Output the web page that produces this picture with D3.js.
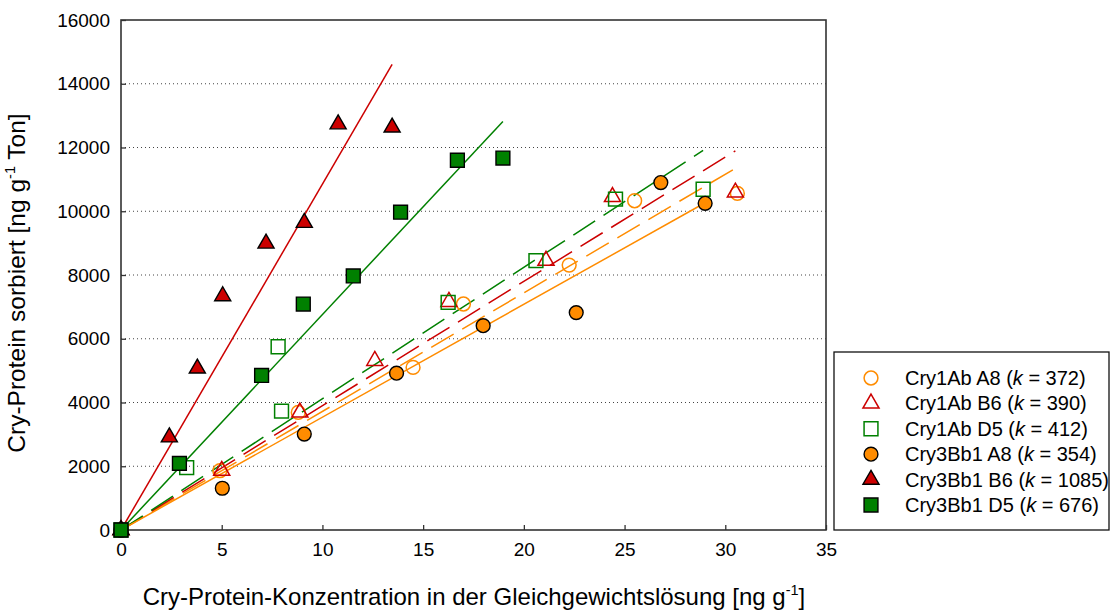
<!DOCTYPE html>
<html><head><meta charset="utf-8">
<script src="https://cdn.jsdelivr.net/npm/d3@7"></script>
<style>body{margin:0;background:#fff}svg{display:block;font-family:"Liberation Sans",Arial,sans-serif}</style>
</head><body><svg id="c" width="1112" height="610"></svg>
<script>
const xTicks=[0,5,10,15,20,25,30,35];
const yTicks=[0,2000,4000,6000,8000,10000,12000,14000,16000];
const seriesNames=["Cry1Ab A8","Cry1Ab B6","Cry1Ab D5","Cry3Bb1 A8","Cry3Bb1 B6","Cry3Bb1 D5"];
const kValues=[372,390,412,354,1085,676];
const cry1AbA8=[[0,0],[4.91,1860],[8.8,3690],[14.5,5100],[17.0,7090],[22.25,8310],[25.5,10330],[30.6,10560]];
const cry1AbB6=[[0,0],[5.0,1860],[8.88,3690],[12.6,5310],[16.28,7160],[21.1,8450],[24.4,10450],[30.5,10590]];
const cry1AbD5=[[0,0],[3.26,1955],[7.97,3730],[7.8,5750],[16.24,7140],[20.6,8450],[24.55,10380],[28.9,10690]];
const cry3Bb1A8=[[0,0],[5.03,1310],[9.1,3010],[13.68,4920],[17.98,6410],[22.6,6820],[26.8,10900],[29.0,10250]];
const cry3Bb1B6=[[0,0],[2.4,2910],[3.79,5070],[5.05,7340],[7.2,8990],[9.1,9640],[10.78,12730],[13.46,12630]];
const cry3Bb1D5=[[0,0],[2.9,2090],[6.98,4850],[9.05,7090],[11.53,7970],[13.88,9970],[16.7,11600],[18.96,11670]];
const seriesData=[cry1AbA8,cry1AbB6,cry1AbD5,cry3Bb1A8,cry3Bb1B6,cry3Bb1D5];

const colors=["#ff8c00","#cc0000","#008000","#ff8c00","#cc0000","#008000"];
const shapes=[d3.symbolCircle,d3.symbolTriangle,d3.symbolSquare,d3.symbolCircle,d3.symbolTriangle,d3.symbolSquare];
const sizes={circle:150,triangle:112,square:192};
const filled=[false,false,false,true,true,true];

const svg=d3.select("#c");
const L=121,R=826,T=20,B=530;
const x=d3.scaleLinear().domain([0,35]).range([L,R]);
const y=d3.scaleLinear().domain([0,16000]).range([B,T]);

// grid
svg.append("g").selectAll("line").data(yTicks.filter(v=>v>0&&v<16000)).join("line")
  .attr("x1",L).attr("x2",R).attr("y1",d=>y(d)).attr("y2",d=>y(d))
  .attr("stroke","#444").attr("stroke-width",1).attr("stroke-dasharray","1,3");

// axes
const gx=svg.append("g").attr("transform",`translate(0,${B})`)
  .call(d3.axisBottom(x).tickValues(xTicks).tickSizeInner(-5).tickSizeOuter(0).tickPadding(13).tickFormat(d3.format("d")));
const gy=svg.append("g").attr("transform",`translate(${L},0)`)
  .call(d3.axisLeft(y).tickValues(yTicks).tickSizeInner(-5).tickSizeOuter(0).tickPadding(11).tickFormat(d3.format("d")));
[gx,gy].forEach(g=>{g.select(".domain").remove();g.selectAll("text").attr("font-size",19).attr("fill","#000").attr("font-family","Liberation Sans, Arial, sans-serif");g.selectAll("line").attr("stroke","#333").attr("stroke-width",1.3);});

// frame
svg.append("rect").attr("x",L).attr("y",T).attr("width",R-L).attr("height",B-T)
  .attr("fill","none").attr("stroke","#333").attr("stroke-width",1.6);

// regression lines
const line=d3.line().x(d=>x(d[0])).y(d=>y(d[1]));
seriesData.forEach((s,i)=>{
  const xmax=d3.max(s,d=>d[0]);
  svg.append("path").datum([[0,0],[xmax,kValues[i]*xmax]]).attr("d",line)
    .attr("fill","none").attr("stroke",colors[i]).attr("stroke-width",1.5)
    .attr("stroke-dasharray",filled[i]?null:"26,10");
});

function sym(i){
  const t=shapes[i];
  const sz=t===d3.symbolCircle?sizes.circle:(t===d3.symbolTriangle?sizes.triangle:sizes.square);
  return d3.symbol().type(t).size(sz)();
}
function styleMarker(sel,i){
  if(filled[i]) sel.attr("fill",colors[i]).attr("stroke","#000").attr("stroke-width",1.4);
  else sel.attr("fill","none").attr("stroke",colors[i]).attr("stroke-width",1.5);
}
seriesData.forEach((s,i)=>{
  const g=svg.append("g");
  g.selectAll("path").data(s).join("path").attr("d",sym(i))
    .attr("transform",d=>`translate(${x(d[0])},${y(d[1])})`).call(styleMarker,i);
});

// axis titles
const yt=svg.append("text").attr("transform","translate(25,283) rotate(-90)")
  .attr("text-anchor","middle").attr("font-size",24.5).attr("fill","#000");
yt.append("tspan").text("Cry-Protein sorbiert [ng g");
yt.append("tspan").text("-1").attr("font-size",14.5).attr("dy",-10);
yt.append("tspan").text(" Ton]").attr("dy",10);

const xt=svg.append("text").attr("x",474).attr("y",605)
  .attr("text-anchor","middle").attr("font-size",24).attr("fill","#000");
xt.append("tspan").text("Cry-Protein-Konzentration in der Gleichgewichtslösung [ng g");
xt.append("tspan").text("-1").attr("font-size",14.5).attr("dy",-10);
xt.append("tspan").text("]").attr("dy",10);

// legend
svg.append("rect").attr("x",834).attr("y",352).attr("width",275).attr("height",178)
  .attr("fill","#fff").attr("stroke","#111").attr("stroke-width",1.3);
const lg=svg.append("g");
seriesNames.forEach((n,i)=>{
  const cy=378+i*25.4;
  lg.append("path").attr("d",sym(i)).attr("transform",`translate(871,${cy})`).call(styleMarker,i);
  const t=lg.append("text").attr("x",905).attr("y",cy+7).attr("font-size",20).attr("fill","#000");
  t.append("tspan").text(n+" (");
  t.append("tspan").text("k").attr("font-style","italic");
  t.append("tspan").text(" = "+kValues[i]+")");
});
</script></body></html>
